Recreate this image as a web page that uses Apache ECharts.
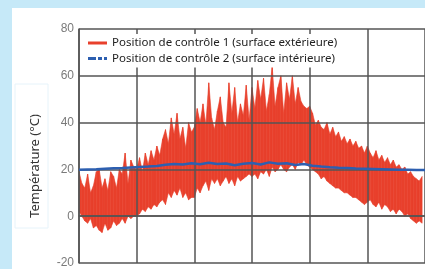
<!DOCTYPE html>
<html>
<head>
<meta charset="utf-8">
<script src="https://cdn.jsdelivr.net/npm/echarts@6/dist/echarts.min.js"></script>
<style>
  html, body { margin: 0; padding: 0; background: #c6e9f8; }
  body { width: 425px; height: 269px; position: relative; overflow: hidden; }
  #chart { position: absolute; left: 12px; top: 8px; width: 413px; height: 261px; background: #fff; }
</style>
</head>
<body>
<div id="chart"></div>
<script>
// daily extremes of control position 1, one pair every 3 days
const outsideHigh = [
  19, 14, 12, 18, 10, 13, 19, 20, 12, 16, 11, 19, 17, 12, 20, 18, 27, 14, 24, 21,
  20, 25, 19, 27, 22, 28, 24, 30, 26, 33, 37, 31, 42, 35, 44, 33, 38, 29, 40, 36,
  38, 46, 40, 48, 39, 57, 42, 37, 45, 51, 40, 38, 57, 44, 55, 40, 48, 43, 56, 41,
  55, 46, 58, 50, 59, 45, 52, 64, 47, 55, 60, 44, 57, 50, 60, 48, 55, 49, 47, 46,
  47, 44, 39, 41, 38, 37, 40, 35, 38, 34, 36, 32, 34, 31, 33, 30, 32, 29, 30, 27,
  30, 27, 25, 28, 24, 26, 23, 25, 22, 24, 21, 22, 20, 21, 18, 19, 17, 16, 15, 17
];
const outsideLow = [
  2, 0, -2, -3, -1, -5, -4, -6, -7, -3, -6, -5, -2, -4, -3, -1, -3, 0, -1, 0,
  0, 1, 3, 2, 4, 3, 5, 4, 6, 7, 5, 10, 8, 11, 9, 12, 8, 10, 7, 8,
  8, 12, 10, 13, 15, 11, 16, 14, 16, 13, 15, 17, 14, 16, 13, 17, 15, 16, 17, 18,
  17, 18, 16, 19, 18, 20, 17, 21, 19, 20, 22, 20, 19, 21, 22, 20, 23, 22, 24, 22,
  21, 20, 19, 18, 16, 17, 15, 14, 13, 12, 12, 11, 10, 10, 9, 8, 8, 7, 6, 5,
  6, 7, 5, 4, 6, 3, 5, 4, 2, 3, 1, 3, 2, 0, 1, -1, -2, -3, -2, -3
];
// control position 2, one value every 9 days
const inside = [
  19.8, 20, 20.1, 20.3, 20.5, 20.6, 20.8, 21, 21.2, 21.5,
  22, 22.3, 22.1, 22.6, 22.2, 22.8, 22.3, 22.5, 21.8, 22.4,
  22.7, 22.1, 23, 22.4, 22.6, 21.9, 22.3, 21.6, 21.2, 20.9,
  20.7, 20.6, 20.4, 20.3, 20.2, 20.1, 20, 19.9, 19.8, 19.7, 19.7
];
const yTicks = [-20, 0, 20, 40, 60, 80];
const names = ['Position de contrôle 1 (surface extérieure)', 'Position de contrôle 2 (surface intérieure)'];

const red = '#e8402c';
const blue = '#2d5fb0';
const gridColor = '#555';

// one band segment per pair of neighbouring days: [x, low, high, nextX, nextLow, nextHigh]
const bandData = [];
for (let i = 0; i < outsideHigh.length - 1; i++) {
  bandData.push([i * 3, outsideLow[i], outsideHigh[i], (i + 1) * 3, outsideLow[i + 1], outsideHigh[i + 1]]);
}
const insideData = inside.map((v, i) => [i * 9, v]);

function renderBand(params, api) {
  const a = api.coord([api.value(0), api.value(2)]);
  const b = api.coord([api.value(3), api.value(5)]);
  const c = api.coord([api.value(3), api.value(4)]);
  const d = api.coord([api.value(0), api.value(1)]);
  return {
    type: 'polygon',
    shape: { points: [a, b, c, d] },
    style: { fill: red, stroke: red, lineWidth: 0.6 }
  };
}

const chart = echarts.init(document.getElementById('chart'));

chart.setOption({
  animation: false,
  textStyle: { fontFamily: 'Noto Sans' },
  grid: { left: 67, top: 21, width: 353, height: 238 },
  legend: {
    orient: 'vertical',
    left: 68, top: 26,
    padding: [3, 6, 3, 8],
    backgroundColor: '#fff',
    itemWidth: 19, itemHeight: 3, itemGap: 3.5,
    textStyle: { fontSize: 11.5, color: '#222', fontFamily: 'Noto Sans' },
    data: [
      { name: names[0], icon: 'rect' },
      { name: names[1], icon: 'path://M0,0h8v3h-8z M10,0h4v3h-4z M16,0h3v3h-3z' }
    ]
  },
  xAxis: {
    type: 'value', min: 0, max: 360, interval: 60, z: 3,
    axisLine: { show: true, lineStyle: { color: gridColor, width: 1.5 } },
    axisTick: { show: false },
    axisLabel: { show: false },
    splitLine: { show: true, lineStyle: { color: gridColor, width: 1.5 } }
  },
  yAxis: {
    type: 'value', min: yTicks[0], max: yTicks[yTicks.length - 1], interval: 20, z: 3,
    axisLine: { show: true, lineStyle: { color: gridColor, width: 1.5 } },
    axisTick: { show: false },
    axisLabel: { color: '#7a7a7a', fontSize: 12, margin: 5, fontFamily: 'Liberation Sans' },
    splitLine: { show: true, lineStyle: { color: gridColor, width: 1.5 } }
  },
  graphic: [
    {
      type: 'rect', shape: { x: 3, y: 76, width: 33, height: 144 },
      style: { fill: '#fff', stroke: '#e6f3fa', lineWidth: 1 }, z: -1
    },
    {
      type: 'text', x: 23, y: 158, rotation: Math.PI / 2,
      style: {
        text: 'Température (°C)', fontSize: 13, fill: '#333',
        fontFamily: 'Noto Sans', align: 'center', verticalAlign: 'middle'
      }
    }
  ],
  series: [
    {
      name: names[0], type: 'custom', renderItem: renderBand, data: bandData,
      encode: { x: [0, 3], y: [1, 2, 4, 5] },
      itemStyle: { color: red }, clip: true
    },
    {
      name: names[1], type: 'line', data: insideData, symbol: 'none',
      lineStyle: { color: blue, width: 2.5 }, itemStyle: { color: blue }
    }
  ]
});
</script>
</body>
</html>
